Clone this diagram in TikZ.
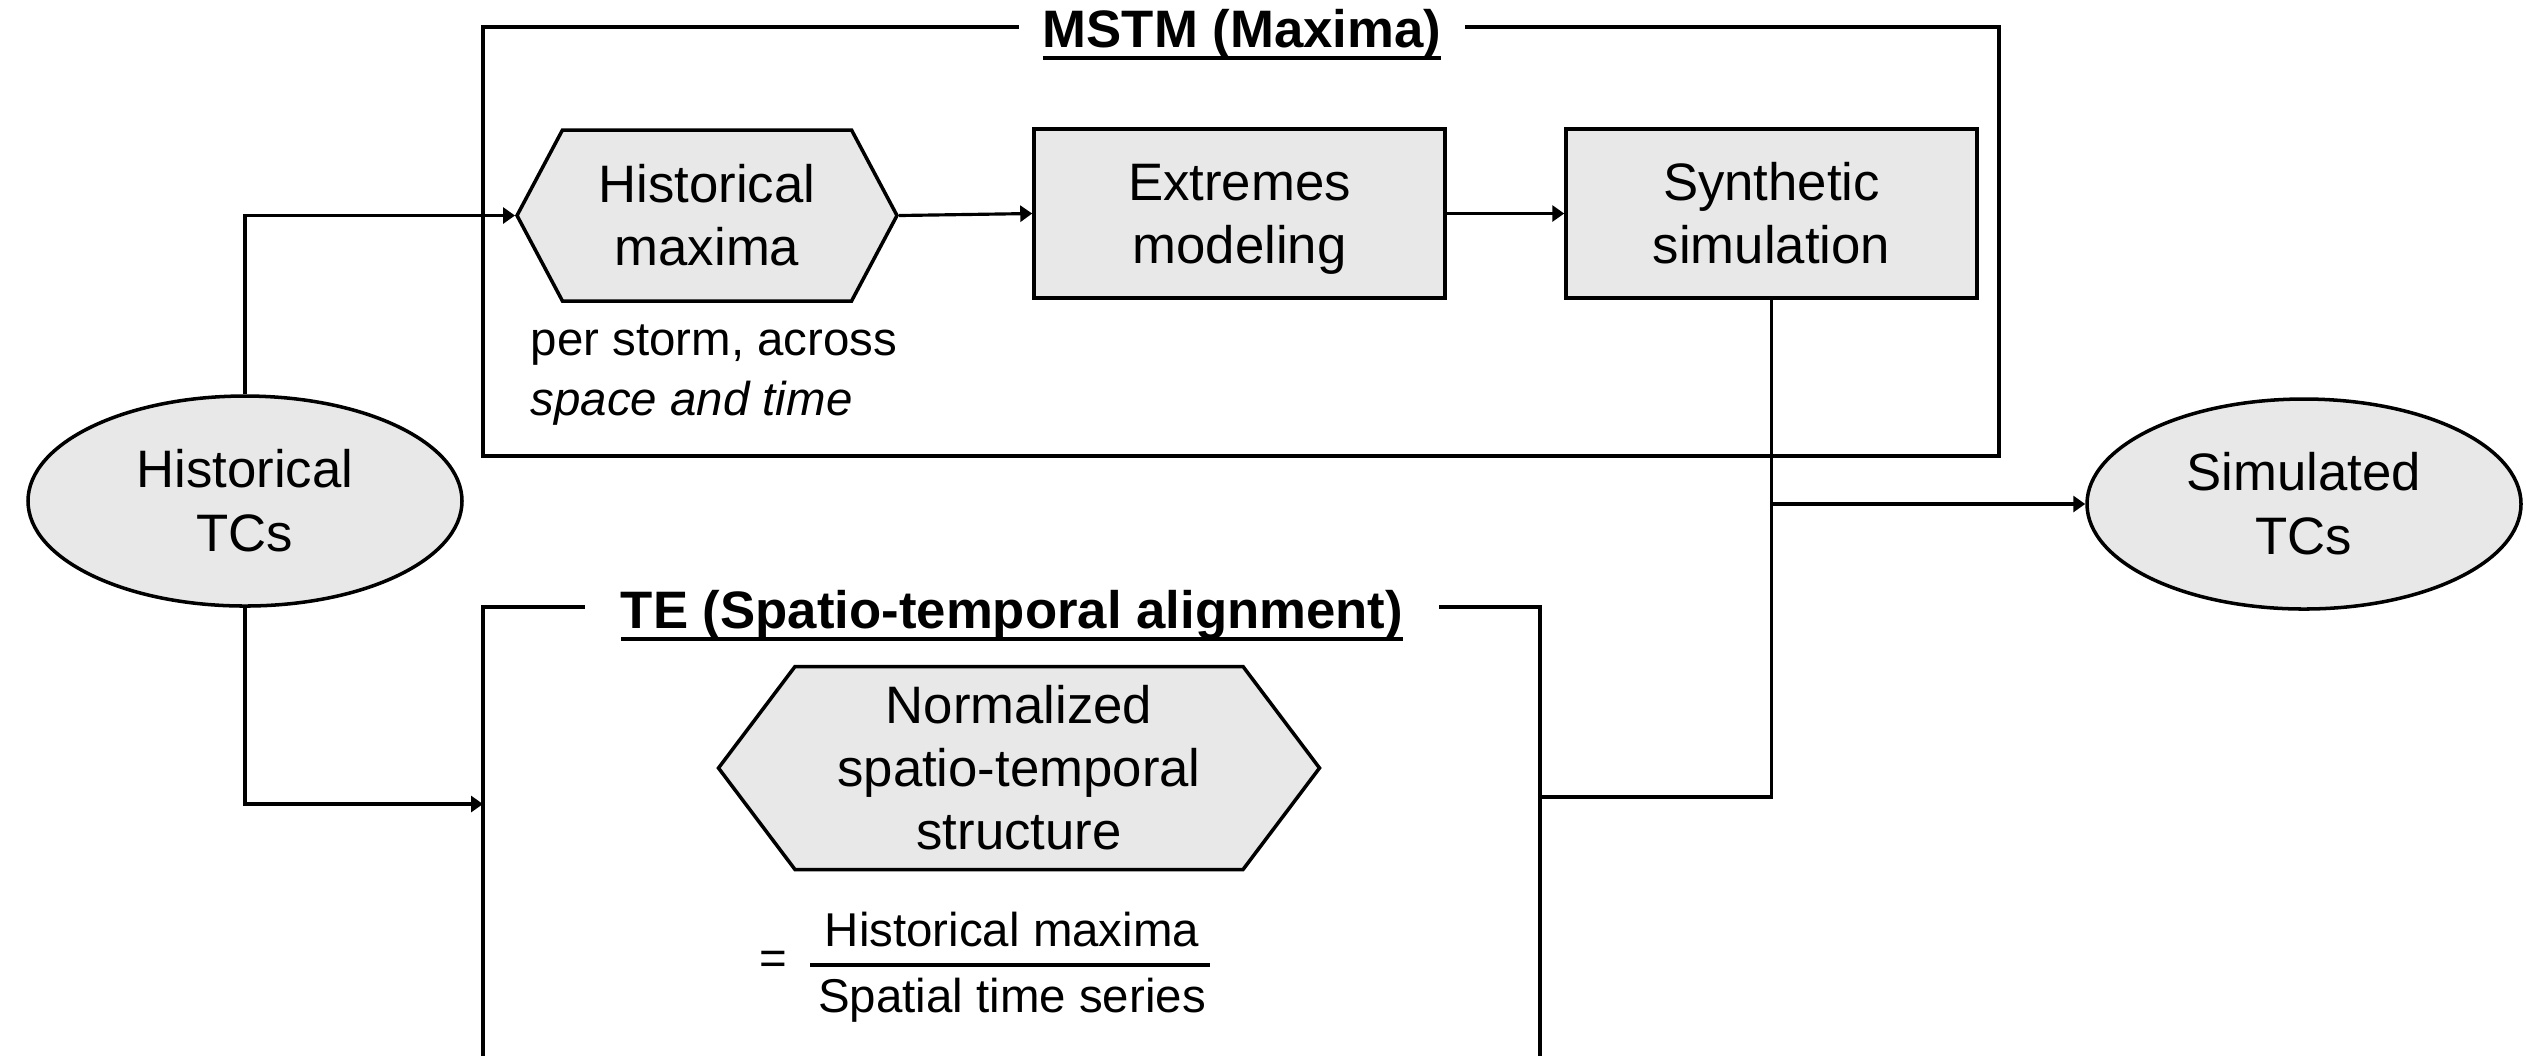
\documentclass[tikz,border=0pt]{standalone}
\usepackage{fontspec}
\setmainfont{Liberation Sans}
\usepackage{xcolor}
\usepackage{tikz}
\usetikzlibrary{shapes.geometric}
\usetikzlibrary{shapes.symbols}
\usetikzlibrary{arrows.meta}
\usetikzlibrary{positioning}
\definecolor{boxgray}{HTML}{E8E8E8}
\newcommand{\ttlline}[1]{\setbox0\hbox{#1}\rlap{\rule[-3.6pt]{\wd0}{1.1pt}}\box0}
\newcommand{\cstrut}{\rule[-3.5pt]{0pt}{17.5pt}}

\begin{document}
\begin{tikzpicture}[
  every node/.style={font=\fontsize{15}{18}\selectfont, align=center, inner sep=0pt},
  stage/.style={rectangle, draw, line width=1pt, fill=boxgray, minimum width=4.11cm, minimum height=1.69cm},
  hexa/.style={signal, signal to=east and west, draw, line width=1pt, fill=boxgray},
  tcs/.style={ellipse, draw, line width=1pt, fill=boxgray, minimum width=4.34cm, minimum height=2.1cm},
  frame/.style={line width=1pt},
  title/.style={font=\bfseries\fontsize{15}{18}\selectfont, fill=white, anchor=base},
  link/.style={line width=0.9pt},
  arr/.style={link, -{Triangle[length=1.2mm, width=1.6mm]}},
  note/.style={font=\fontsize{13.5}{16}\selectfont}
]
\useasboundingbox (0,0) rectangle (25.26,-10.55);

% MSTM block
\draw[frame] (4.83,-0.27) rectangle (19.99,-4.56);
\node[title, inner xsep=0.24cm] (mstm) at (12.42,-0.47) {\ttlline{MSTM (Maxima)}};
\node[hexa, minimum width=3.8cm, minimum height=1.71cm, signal pointer angle=124] (hm) at (7.07,-2.155) {Historical\cstrut\\maxima\cstrut};
\node[stage] (em) at (12.395,-2.135) {Extremes\cstrut\\modeling\cstrut};
\node[stage] (ss) at (17.715,-2.135) {Synthetic\cstrut\\simulation\cstrut};
\node[note, font=\fontsize{13.5}{17}\selectfont, anchor=west, align=left] (psat) at (5.30,-3.75) {per storm, across\\\textit{space and time}};

% TE block
\draw[frame] (4.83,-10.7) -- (4.83,-6.07) -- (15.40,-6.07) -- (15.40,-10.7);
\node[title, inner xsep=0.36cm] (te) at (10.12,-6.28) {\ttlline{TE (Spatio-temporal alignment)}};
\node[hexa, minimum width=6.01cm, minimum height=2.03cm, signal pointer angle=106] (nst) at (10.19,-7.68) {Normalized\cstrut\\spatio-temporal\cstrut\\structure\cstrut};
\node[note] (eq) at (7.73,-9.63) {=};
\node[note] (num) at (10.12,-9.30) {Historical maxima};
\node[note] (den) at (10.12,-10.00) {Spatial time series};
\draw[link] (8.10,-9.65) -- (12.10,-9.65);

% input and output
\node[tcs] (htc) at (2.45,-5.01) {Historical\cstrut\\TCs\cstrut};
\node[tcs] (stc) at (23.04,-5.04) {Simulated\cstrut\\TCs\cstrut};

\coordinate (teleft) at (4.83,-8.04);
\coordinate (teright) at (15.40,-7.97);
\coordinate (join) at (ss.south |- stc.west);

\draw[arr] (htc.north) |- (hm.west);
\draw[arr] (hm.east) -- (em.west);
\draw[arr] (em.east) -- (ss.west);
\draw[arr] (htc.south) |- (teleft);
\draw[link] (ss.south) |- (teright);
\draw[arr] (join) -- (stc.west);
\end{tikzpicture}
\end{document}
